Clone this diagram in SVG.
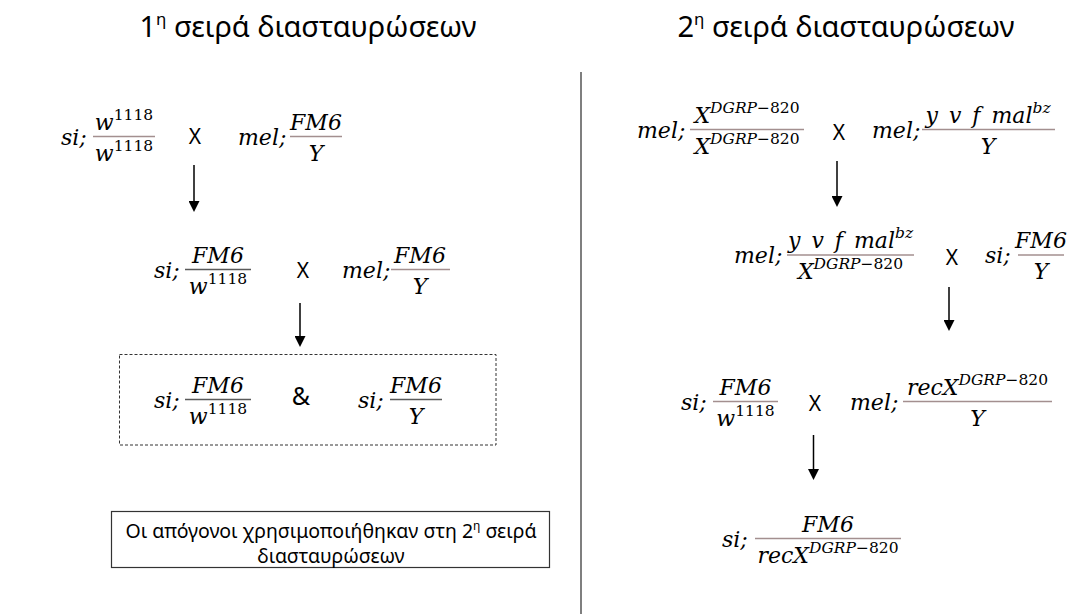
<svg xmlns="http://www.w3.org/2000/svg" width="1073" height="614" viewBox="0 0 1073 614">
  <defs>
    <style>
      .sans { font-family: "Noto Sans", "Open Sans", sans-serif; fill: #000; }
      .title { font-size: 29px; text-anchor: middle; }
      .note { font-size: 19.5px; text-anchor: middle; }
      .op { font-size: 21px; text-anchor: middle; }
      .amp { font-size: 25px; text-anchor: middle; }
      .m { font-family: "DejaVu Serif", "Liberation Serif", serif; font-style: italic; font-size: 22px; fill: #000; }
      .c { text-anchor: middle; }
      .s { font-size: 15.5px; }
      .u { font-style: normal; }
      .bar { stroke: #a38f8f; stroke-width: 1.3; }
      .bar.dk { stroke: #5a5a5a; }
      .arrow { stroke: #000; stroke-width: 1.5; fill: none; marker-end: url(#head); }
    </style>
    <marker id="head" viewBox="0 0 11 11" refX="6" refY="5.5" markerWidth="11" markerHeight="11" orient="auto" markerUnits="userSpaceOnUse">
      <path d="M0,0 L11,5.5 L0,11 z" fill="#000"/>
    </marker>
  </defs>

  <rect width="1073" height="614" fill="#fff"/>

  <!-- column headings -->
  <g id="heading-1">
    <text class="sans title" x="308" y="37">1<tspan font-size="17" dy="-12">η</tspan><tspan dy="12"> σειρά διασταυρώσεων</tspan></text>
  </g>
  <g id="heading-2">
    <text class="sans title" x="846" y="37">2<tspan font-size="17" dy="-12">η</tspan><tspan dy="12"> σειρά διασταυρώσεων</tspan></text>
  </g>

  <!-- divider between the two series -->
  <line x1="581" y1="72" x2="581" y2="614" stroke="#7f7f7f" stroke-width="2"/>

  <!-- ===== first series ===== -->
  <g id="cross-1a">
    <text class="m" x="61" y="144.5">si;</text>
    <line class="bar" x1="93" y1="136.5" x2="155" y2="136.5"/>
    <text class="m c" x="124" y="129.5">w<tspan class="s u" dy="-10">1118</tspan></text>
    <text class="m c" x="124" y="160.5">w<tspan class="s u" dy="-10">1118</tspan></text>
    <text class="sans op" x="195" y="144">X</text>
    <text class="m" x="238" y="144.5">mel;</text>
    <line class="bar" x1="290" y1="136.5" x2="342" y2="136.5"/>
    <text class="m c" x="316" y="129.5">FM6</text>
    <text class="m c" x="316" y="160.5">Y</text>
  </g>

  <g id="cross-1b">
    <text class="m" x="154" y="277.5">si;</text>
    <line class="bar dk" x1="185" y1="269.5" x2="251" y2="269.5"/>
    <text class="m c" x="218" y="262.5">FM6</text>
    <text class="m c" x="218" y="293.5">w<tspan class="s u" dy="-10">1118</tspan></text>
    <text class="sans op" x="303" y="278">X</text>
    <text class="m" x="342" y="277.5">mel;</text>
    <line class="bar" x1="391" y1="269.5" x2="450" y2="269.5"/>
    <text class="m c" x="420" y="262.5">FM6</text>
    <text class="m c" x="420" y="293.5">Y</text>
  </g>

  <g id="offspring-1">
    <rect x="119.5" y="354.5" width="376.5" height="90.5" fill="none" stroke="#333" stroke-width="1" stroke-dasharray="3 2"/>
    <text class="m" x="154" y="407.5">si;</text>
    <line class="bar dk" x1="185" y1="399.5" x2="251" y2="399.5"/>
    <text class="m c" x="218" y="392.5">FM6</text>
    <text class="m c" x="218" y="423.5">w<tspan class="s u" dy="-10">1118</tspan></text>
    <text class="sans amp" x="301" y="405">&amp;</text>
    <text class="m" x="358" y="407.5">si;</text>
    <line class="bar dk" x1="390" y1="399.5" x2="442" y2="399.5"/>
    <text class="m c" x="416" y="392.5">FM6</text>
    <text class="m c" x="416" y="423.5">Y</text>
  </g>

  <g id="note">
    <rect x="111.5" y="511.5" width="438" height="56" fill="#fff" stroke="#333" stroke-width="1.2"/>
    <text class="sans note" x="331" y="538">Οι απόγονοι χρησιμοποιήθηκαν στη 2<tspan font-size="12" dy="-8">η</tspan><tspan dy="8"> σειρά</tspan></text>
    <text class="sans note" x="331" y="563">διασταυρώσεων</text>
  </g>

  <!-- ===== second series ===== -->
  <g id="cross-2a">
    <text class="m" x="637" y="137.5">mel;</text>
    <line class="bar" x1="690" y1="129.5" x2="804" y2="129.5"/>
    <text class="m c" x="747" y="122.5">X<tspan class="s" dy="-10">DGRP</tspan><tspan class="s u">−820</tspan></text>
    <text class="m c" x="747" y="153.5">X<tspan class="s" dy="-10">DGRP</tspan><tspan class="s u">−820</tspan></text>
    <text class="sans op" x="839" y="140">X</text>
    <text class="m" x="872" y="137.5">mel;</text>
    <line class="bar" x1="922" y1="129.5" x2="1055" y2="129.5"/>
    <text class="m c" x="988" y="122.5" word-spacing="4">y v f mal<tspan class="s" dy="-10">bz</tspan></text>
    <text class="m c" x="988" y="153.5">Y</text>
  </g>

  <g id="cross-2b">
    <text class="m" x="734" y="263">mel;</text>
    <line class="bar" x1="787" y1="255" x2="914" y2="255"/>
    <text class="m c" x="850.5" y="248" word-spacing="4">y v f mal<tspan class="s" dy="-10">bz</tspan></text>
    <text class="m c" x="850.5" y="279">X<tspan class="s" dy="-10">DGRP</tspan><tspan class="s u">−820</tspan></text>
    <text class="sans op" x="952" y="265">X</text>
    <text class="m" x="985" y="263">si;</text>
    <line class="bar" x1="1018" y1="255" x2="1064" y2="255"/>
    <text class="m c" x="1041" y="248">FM6</text>
    <text class="m c" x="1041" y="279">Y</text>
  </g>

  <g id="cross-2c">
    <text class="m" x="681" y="409.5">si;</text>
    <line class="bar" x1="713" y1="401.5" x2="778" y2="401.5"/>
    <text class="m c" x="745.5" y="394.5">FM6</text>
    <text class="m c" x="745.5" y="425.5">w<tspan class="s u" dy="-10">1118</tspan></text>
    <text class="sans op" x="815" y="411">X</text>
    <text class="m" x="850" y="409.5">mel;</text>
    <line class="bar" x1="903" y1="401.5" x2="1052" y2="401.5"/>
    <text class="m c" x="977.5" y="394.5">recX<tspan class="s" dy="-10">DGRP</tspan><tspan class="s u">−820</tspan></text>
    <text class="m c" x="977.5" y="425.5">Y</text>
  </g>

  <g id="result-2">
    <text class="m" x="722" y="546.5">si;</text>
    <line class="bar" x1="755" y1="538.5" x2="901" y2="538.5"/>
    <text class="m c" x="828" y="531.5">FM6</text>
    <text class="m c" x="828" y="562.5">recX<tspan class="s" dy="-10">DGRP</tspan><tspan class="s u">−820</tspan></text>
  </g>

  <!-- connectors -->
  <g id="connectors">
    <line class="arrow" x1="194" y1="165" x2="194" y2="207"/>
    <line class="arrow" x1="300" y1="303" x2="300" y2="342"/>
    <line class="arrow" x1="837" y1="161" x2="837" y2="202"/>
    <line class="arrow" x1="949" y1="287" x2="949" y2="326"/>
    <line class="arrow" x1="813.5" y1="435" x2="813.5" y2="475"/>
  </g>
</svg>
